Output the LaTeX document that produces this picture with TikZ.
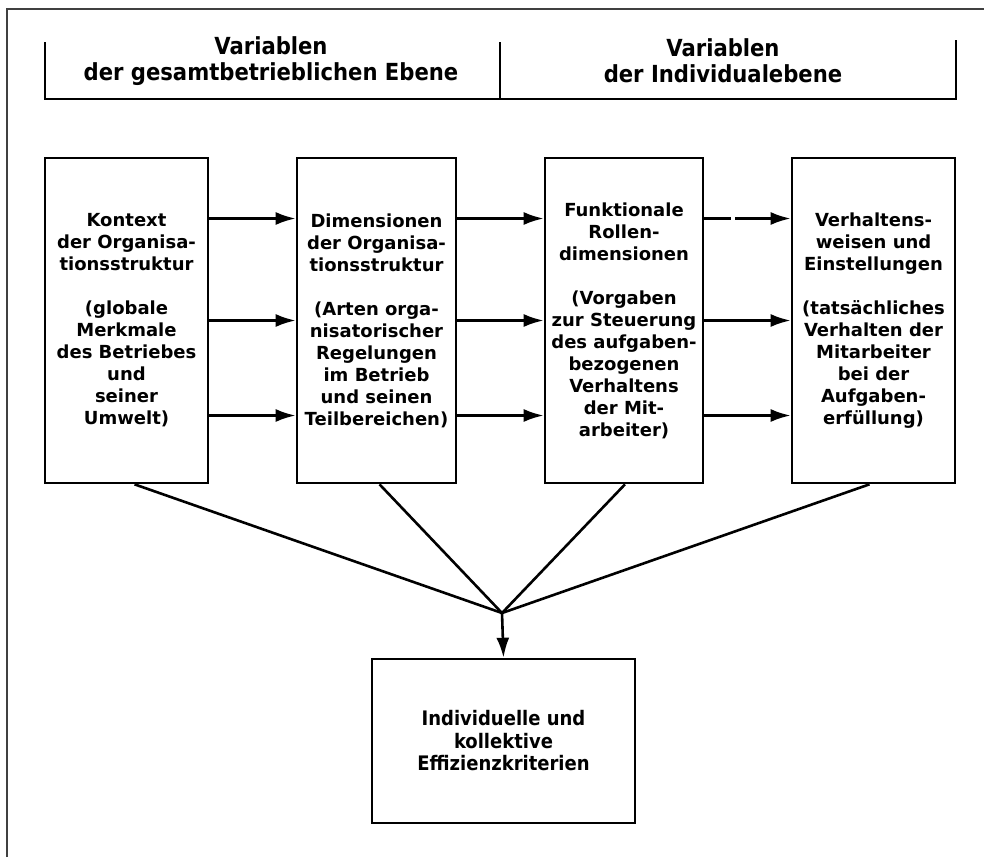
\documentclass[tikz,border=0pt]{standalone}
\usepackage{fontspec}
\setmainfont{DejaVu Sans}
\newfontfamily\kopffont{DejaVu Sans Condensed}
\usetikzlibrary{arrows.meta}

\tikzset{
	box/.style={draw, line width=2.6pt, inner sep=0pt, align=center,
		minimum width=160pt, minimum height=325pt,
		font=\bfseries\fontsize{18}{22}\selectfont},
	kopf/.style={align=center, font=\kopffont\bfseries\fontsize{23.5}{26}\selectfont},
}

\begin{document}
\begin{tikzpicture}[x=1pt, y=-1pt, >={Latex[length=20pt,width=13pt]}, line width=2.6pt]
		\useasboundingbox (0,0) rectangle (984,857);
		\draw[line width=2pt, black!75] (7,857) -- (7,9) -- (984,9);

		\node[kopf] (gesamt) at (271,61) {Variablen\\der gesamtbetrieblichen Ebene};
		\node[kopf] (individual) at (723,61) {Variablen\\der Individualebene};
		\draw (45,42) -- (45,99) -- (956,99) -- (956,40);
		\draw (500,42) -- (500,99);

		\node[box, minimum width=163pt] (kontext) at (126.5,320.5)
			{Kontext\\der Organisa-\\tionsstruktur\\[22pt](globale\\Merkmale\\des Betriebes\\und\\seiner\\Umwelt)};
		\node[box, minimum width=159pt] (dimension) at (376.5,320.5)
			{Dimensionen\\der Organisa-\\tionsstruktur\\[22pt](Arten orga-\\nisatorischer\\Regelungen\\im Betrieb\\und seinen\\Teilbereichen)};
		\node[box, minimum width=158pt] (rolle) at (624,320.5)
			{Funktionale\\Rollen-\\dimensionen\\[22pt](Vorgaben\\zur Steuerung\\des aufgaben-\\bezogenen\\Verhaltens\\der Mit-\\arbeiter)};
		\node[box, minimum width=163pt] (verhalten) at (873.5,320.5)
			{Verhaltens-\\weisen und\\Einstellungen\\[22pt](tats\"achliches\\Verhalten der\\Mitarbeiter\\bei der\\Aufgaben-\\erf\"ullung)};

		\foreach \s in {102,0,-95} {
				\draw[->] ([yshift=\s pt]kontext.east) -- ([yshift=\s pt]dimension.west);
				\draw[->] ([yshift=\s pt]dimension.east) -- ([yshift=\s pt]rolle.west);
			}
		\draw[->, dash pattern=on 27pt off 4pt on 80pt off 4pt] ([yshift=102pt]rolle.east) -- ([yshift=102pt]verhalten.west);
		\foreach \s in {0,-95} {
				\draw[->] ([yshift=\s pt]rolle.east) -- ([yshift=\s pt]verhalten.west);
			}

		\node[box, minimum width=263pt, minimum height=164pt, font=\kopffont\bfseries\fontsize{20}{22.5}\selectfont] (effizienz) at (503.5,741)
			{Individuelle und\\kollektive\\Effizienzkriterien};
		\coordinate (knoten) at (502,613);
		\foreach \b/\d in {kontext/8, dimension/3, rolle/1, verhalten/-4} {
				\draw ([xshift=\d pt]\b.south) -- (knoten);
			}
		\draw[->] (knoten) -- (effizienz.north);
	\end{tikzpicture}
\end{document}
